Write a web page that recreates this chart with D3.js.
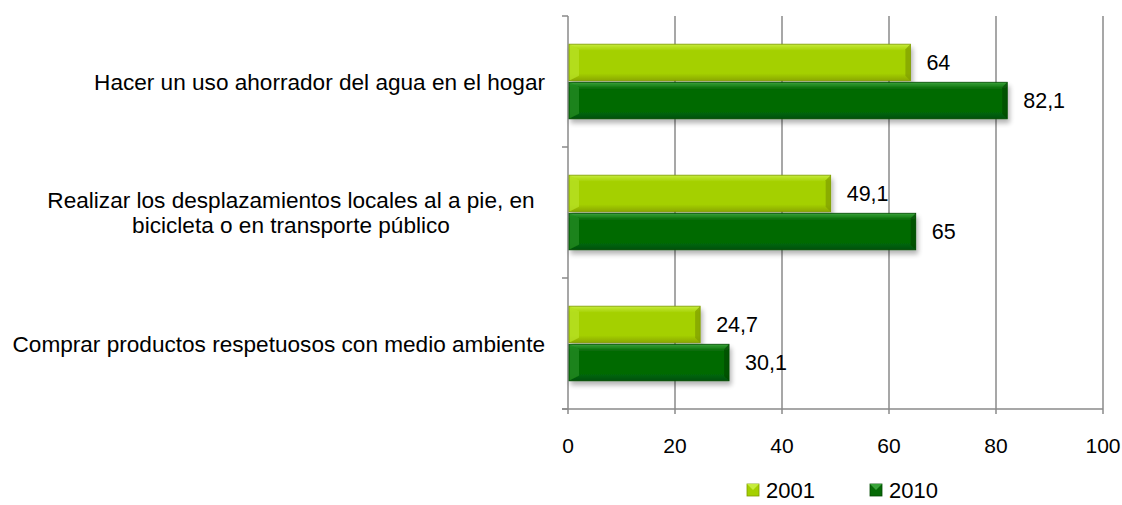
<!DOCTYPE html>
<html><head><meta charset="utf-8">
<script src="https://cdn.jsdelivr.net/npm/d3@7"></script>
<style>body{margin:0;background:#fff;}svg{display:block;font-family:"Liberation Sans",Arial,sans-serif;}</style>
</head><body><svg id="c" width="1122" height="505"></svg>
<script>
const categories = [
  ["Hacer un uso ahorrador del agua en el hogar"],
  ["Realizar los desplazamientos locales al a pie, en", "bicicleta o en transporte público"],
  ["Comprar productos respetuosos con medio ambiente"]
];
const seriesNames = ["2001", "2010"];
const values2001 = [64, 49.1, 24.7];
const values2010 = [82.1, 65, 30.1];
const xTicks = [0, 20, 40, 60, 80, 100];

const colors = {
  "2001": {main:"#a4d000", top:"#c6ec3c", bot:"#8aa800", side:"#b7e020", edge:"#7f9c00"},
  "2010": {main:"#066a06", top:"#3aa43a", bot:"#04500a", side:"#1f8a1f", edge:"#044a04"}
};

const FS_CAT = 22.6, FS_TICK = 21, FS_VAL = 21.5, FS_LEG = 22;
const svg = d3.select("#c");
const m = {left:568, right:1103, top:16, bottom:409};
const x = d3.scaleLinear().domain([0,100]).range([m.left, m.right]);
const y = d3.scaleBand().domain(d3.range(categories.length)).range([m.top, m.bottom]);
const inner = d3.scaleBand().domain(seriesNames).range([0, y.bandwidth()]).paddingOuter(0.74).paddingInner(0.04);

const defs = svg.append("defs");
const f = defs.append("filter").attr("id","sh").attr("x","-5%").attr("y","-20%").attr("width","115%").attr("height","160%");
f.append("feGaussianBlur").attr("in","SourceAlpha").attr("stdDeviation",2.5).attr("result","b");
f.append("feOffset").attr("in","b").attr("dx",2).attr("dy",4).attr("result","o");
f.append("feComponentTransfer").attr("in","o").attr("result","o2").append("feFuncA").attr("type","linear").attr("slope",0.3);
const mg = f.append("feMerge"); mg.append("feMergeNode").attr("in","o2"); mg.append("feMergeNode").attr("in","SourceGraphic");

seriesNames.forEach(s=>{
  const c = colors[s];
  const g = defs.append("linearGradient").attr("id","g"+s).attr("x1",0).attr("x2",0).attr("y1",0).attr("y2",1);
  g.append("stop").attr("offset","0%").attr("stop-color",c.top);
  g.append("stop").attr("offset","18%").attr("stop-color",c.main);
  g.append("stop").attr("offset","80%").attr("stop-color",c.main);
  g.append("stop").attr("offset","100%").attr("stop-color",c.bot);
});

const grid = svg.append("g");
xTicks.slice(1).forEach(t=>{
  grid.append("line").attr("x1",x(t)).attr("x2",x(t)).attr("y1",m.top).attr("y2",m.bottom+5)
    .attr("stroke","#8a8a8a").attr("stroke-width",1.5);
});
svg.append("line").attr("x1",m.left-6).attr("x2",x(100)).attr("y1",m.bottom).attr("y2",m.bottom).attr("stroke","#8a8a8a").attr("stroke-width",1.5);
svg.append("line").attr("x1",m.left).attr("x2",m.left).attr("y1",m.top).attr("y2",m.bottom+5).attr("stroke","#8a8a8a").attr("stroke-width",1.5);
d3.range(categories.length+1).forEach(i=>{
  const yy = i<categories.length ? y(i) : m.bottom;
  svg.append("line").attr("x1",m.left-6).attr("x2",m.left).attr("y1",yy).attr("y2",yy).attr("stroke","#8a8a8a").attr("stroke-width",1.5);
});
svg.append("g").selectAll("text").data(xTicks).join("text")
  .attr("x",d=>x(d)).attr("y",445).attr("dy","0.36em").attr("text-anchor","middle").attr("font-size",FS_TICK).attr("fill","#000").text(d=>d);

const data = [];
categories.forEach((cat,i)=>{
  data.push({i, s:"2001", v:values2001[i]});
  data.push({i, s:"2010", v:values2010[i]});
});
const bars = svg.append("g");
data.forEach(d=>{
  const c = colors[d.s];
  const x0 = x(0)+1, x1 = x(d.v);
  const y0 = y(d.i)+inner(d.s), h = inner.bandwidth(), y1 = y0+h;
  const b = 5;
  const g = bars.append("g").attr("filter","url(#sh)");
  g.append("rect").attr("x",x0).attr("y",y0).attr("width",x1-x0).attr("height",h).attr("fill","url(#g"+d.s+")");
  g.append("polygon").attr("points",[[x0,y0],[x0+b*2,y0+b],[x0+b*2,y1-b],[x0,y1]].join(" ")).attr("fill",c.side).attr("opacity",0.8);
  g.append("polygon").attr("points",[[x1,y0],[x1-b,y0+b],[x1-b,y1-b],[x1,y1]].join(" ")).attr("fill",c.edge).attr("opacity",0.7);
  g.append("rect").attr("x",x0).attr("y",y0).attr("width",x1-x0).attr("height",h).attr("fill","none").attr("stroke",c.edge).attr("stroke-width",0.8);
  svg.append("text").attr("x",x1+16).attr("y",y0+h/2).attr("dy","0.36em").attr("font-size",FS_VAL).attr("fill","#000")
    .text(String(d.v).replace(".",","));
});

categories.forEach((lines,i)=>{
  const cy = y(i)+y.bandwidth()/2;
  const lh = 25;
  const t = svg.append("text").attr("font-size",FS_CAT).attr("fill","#000");
  if(lines.length===1){
    t.attr("x",545).attr("y",cy).attr("dy","0.36em").attr("text-anchor","end").text(lines[0]);
  } else {
    lines.forEach((l,k)=>{
      t.append("tspan").attr("x",291).attr("y",cy + (k-(lines.length-1)/2)*lh).attr("dy","0.36em").attr("text-anchor","middle").text(l);
    });
  }
});

const leg = svg.append("g");
const legX = [747, 870];
seriesNames.forEach((s,k)=>{
  const c = colors[s];
  const gx = legX[k], gy = 484;
  leg.append("rect").attr("x",gx).attr("y",gy).attr("width",12).attr("height",12).attr("fill",c.main).attr("stroke",c.edge).attr("stroke-width",0.8);
  leg.append("polygon").attr("points",[[gx,gy],[gx+12,gy],[gx+6,gy+6]].join(" ")).attr("fill",c.top);
  leg.append("text").attr("x",gx+19).attr("y",gy+6).attr("dy","0.36em").attr("font-size",FS_LEG).attr("fill","#000").text(s);
});
</script></body></html>
